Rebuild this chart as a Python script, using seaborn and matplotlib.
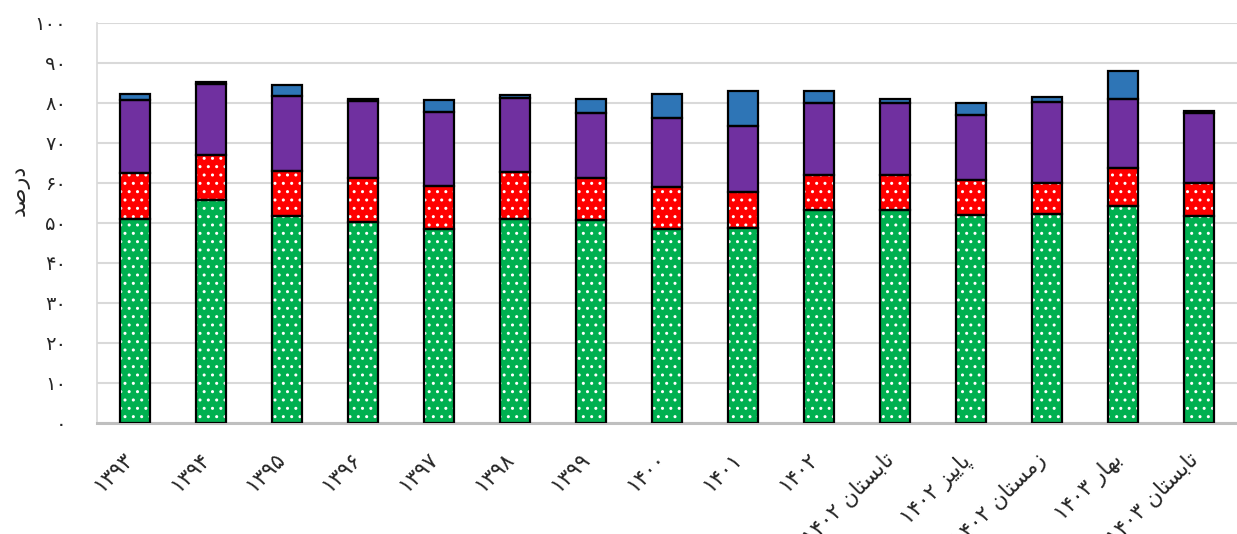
import numpy as np
import matplotlib
matplotlib.use("Agg")
from matplotlib import pyplot as plt
import matplotlib.transforms as mtransforms
import seaborn as sns

# persian digits
FA = str.maketrans("0123456789", "\u06f0\u06f1\u06f2\u06f3\u06f4\u06f5\u06f6\u06f7\u06f8\u06f9")

def fa(s):
    return str(s).translate(FA)

# words already shaped + reversed (matplotlib does no arabic shaping)
TABESTAN = "\ufee5\ufe8e\ufe98\ufeb4\ufe91\ufe8e\ufe97"
PAEEZ = "\ufeb0\ufbff\ufbfe\ufe8e\ufb58"
ZEMESTAN = "\ufee5\ufe8e\ufe98\ufeb4\ufee3\ufeaf"
BAHAR = "\ufead\ufe8e\ufeec\ufe91"
DARSAD = "\ufeaa\ufebb\ufead\ufea9"

years = ["1393", "1394", "1395", "1396", "1397", "1398", "1399", "1400", "1401", "1402"]
seasons = [("1402", TABESTAN), ("1402", PAEEZ), ("1402", ZEMESTAN), ("1403", BAHAR), ("1403", TABESTAN)]
labels = [fa(y) for y in years] + [fa(y) + " " + w for y, w in seasons]
cats = [str(i) for i in range(len(labels))]

green = [50.9, 55.6, 51.7, 50.1, 48.4, 50.9, 50.75, 48.35, 48.6, 53.2, 53.2, 52.0, 52.2, 54.1, 51.7]
red = [11.6, 11.4, 11.2, 11.15, 10.8, 11.85, 10.35, 10.65, 9.1, 8.65, 8.7, 8.6, 7.7, 9.65, 8.2]
purple = [18.25, 17.75, 18.8, 19.25, 18.5, 18.35, 16.25, 17.25, 16.55, 18.15, 18.1, 16.3, 20.2, 17.25, 17.6]
blue = [1.5, 0.45, 2.6, 0.5, 2.9, 0.7, 3.5, 5.95, 8.6, 3.0, 1.0, 2.95, 1.4, 7.0, 0.4]

yticks = list(range(0, 101, 10))

sns.set_theme(style="white")
plt.rcParams['font.family'] = ['DejaVu Sans']

fig = plt.figure(figsize=(12.37, 5.34), dpi=100)
ax = fig.add_axes([97 / 1237, 1 - 422.7 / 534, 1140 / 1237, 400 / 534])

layers = [(green, "#00B050", True), (red, "#FF0000", True),
          (purple, "#7030A0", False), (blue, "#2E75B6", False)]
bottom = np.zeros(len(cats))
for vals, col, dotted in layers:
    vals = np.array(vals)
    if dotted:
        # white dots: hatch takes the edge colour, so fill first, outline after
        sns.barplot(x=cats, y=vals, bottom=bottom, color=col, saturation=1, width=0.4,
                    edgecolor="white", linewidth=0, hatch="..", ax=ax, zorder=2)
    else:
        sns.barplot(x=cats, y=vals, bottom=bottom, color=col, saturation=1, width=0.4,
                    linewidth=0, ax=ax, zorder=2)
    sns.barplot(x=cats, y=vals, bottom=bottom, color="black", fill=False, width=0.4,
                linewidth=1.6, ax=ax, zorder=3)
    bottom = bottom + vals

ax.set_xlim(-0.5, len(cats) - 0.5)
ax.set_ylim(0, 100)
ax.set_yticks(yticks)
ax.set_yticklabels([fa(t) for t in yticks], fontsize=14)
ax.grid(axis="y", color="#D9D9D9", linewidth=1.5, zorder=0)
ax.set_axisbelow(True)
ax.tick_params(axis="y", length=0, pad=22)
ax.tick_params(axis="x", length=0, pad=4)
ax.set_xlabel("")
ax.set_ylabel("")

for s in ["top", "right"]:
    ax.spines[s].set_visible(False)
ax.spines["left"].set_color("#D9D9D9")
ax.spines["left"].set_linewidth(1.2)
ax.spines["bottom"].set_color("#BFBFBF")
ax.spines["bottom"].set_linewidth(2.2)

ax.set_xticks(range(len(cats)))
ax.set_xticklabels(labels, rotation=45, ha="right", rotation_mode="anchor", fontsize=15.5)
# shift labels so their upper end sits just under each bar
offset = mtransforms.ScaledTranslation(-0.12, -0.21, fig.dpi_scale_trans)
for lab in ax.get_xticklabels():
    lab.set_transform(lab.get_transform() + offset)

fig.text(20 / 1237, 1 - 190 / 534, DARSAD, rotation=90, ha="center", va="center", fontsize=16)

fig.savefig("out.png", dpi=100)
